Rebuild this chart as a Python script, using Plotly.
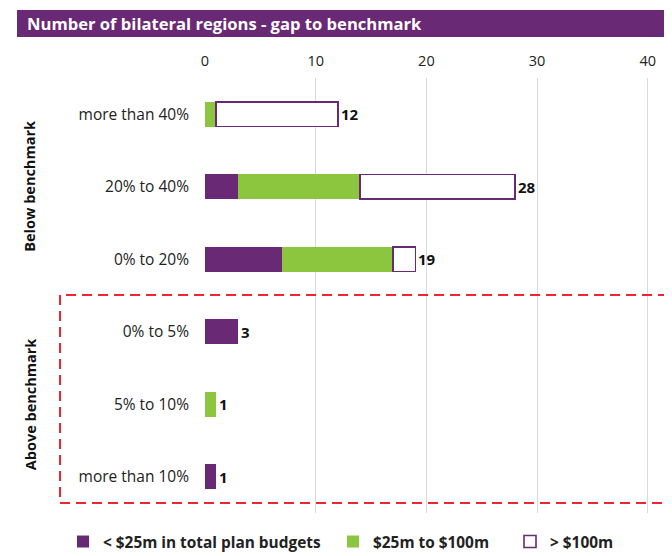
import plotly.graph_objects as go

categories = ["more than 40%", "20% to 40%", "0% to 20%", "0% to 5%", "5% to 10%", "more than 10%"]
small_budget = [0, 3, 7, 3, 0, 1]      # < $25m in total plan budgets
mid_budget = [1, 11, 10, 0, 1, 0]      # $25m to $100m
large_budget = [11, 14, 2, 0, 0, 0]    # > $100m
series_names = ["< $25m in total plan budgets", "$25m to $100m", "> $100m"]
group_labels = ["Below benchmark", "Above benchmark"]
group_centres = ["20% to 40%", "5% to 10%"]
x_ticks = [0, 10, 20, 30, 40]

PURPLE = "#6A2974"
GREEN = "#8CC63F"
FONT = "Open Sans"

totals = [a + b + c for a, b, c in zip(small_budget, mid_budget, large_budget)]

def nz(vals):
    return [v if v else None for v in vals]

# page body adds an 8px offset; work in window pixels and convert
OFF = 8
W, H = 672 - OFF, 556 - OFF
L, R, T, B = 205 - OFF, 0, 78 - OFF, 43
pw, ph = W - L - R, H - T - B

def px_x(p):
    return (p - OFF - L) / pw

def px_y(p):
    return (H - B - (p - OFF)) / ph

fig = go.Figure()
fig.add_trace(go.Bar(y=categories, x=nz(small_budget), orientation="h", name=series_names[0],
                     marker=dict(color=PURPLE, line=dict(width=0)), width=0.34,
                     legend="legend", showlegend=True))
fig.add_trace(go.Bar(y=categories, x=nz(mid_budget), orientation="h", name=series_names[1],
                     marker=dict(color=GREEN, line=dict(width=0)), width=0.34,
                     legend="legend2", showlegend=True))
fig.add_trace(go.Bar(y=categories, x=nz(large_budget), orientation="h", name=series_names[2],
                     marker=dict(color="white", line=dict(color=PURPLE, width=1.6)), width=0.34,
                     legend="legend3", showlegend=True))

shapes = [
    dict(type="rect", xref="paper", yref="paper", x0=px_x(17), x1=px_x(700), y0=px_y(37), y1=px_y(10),
         fillcolor=PURPLE, line=dict(width=0), layer="below"),
    dict(type="rect", xref="paper", yref="paper", x0=px_x(60), x1=px_x(700), y0=px_y(503), y1=px_y(295),
         fillcolor="rgba(0,0,0,0)", line=dict(color="#EE2430", width=2, dash="10px,6px")),
]

annotations = [
    dict(text="Number of bilateral regions - gap to benchmark", xref="paper", yref="paper",
         x=px_x(25), y=px_y(23.5), xanchor="left", yanchor="middle", showarrow=False,
         font=dict(family=FONT, size=16.6, color="white", weight="bold")),
]
for lab, cen in zip(group_labels, group_centres):
    annotations.append(dict(text=lab, xref="paper", yref="y", x=px_x(30), y=cen, textangle=-90,
                            xanchor="center", yanchor="middle", showarrow=False,
                            font=dict(family=FONT, size=14.5, color="#111111", weight="bold")))
for cat, tot in zip(categories, totals):
    annotations.append(dict(text=str(tot), xref="x", yref="y", x=tot, y=cat, xanchor="left",
                            yanchor="middle", xshift=1, showarrow=False,
                            font=dict(family=FONT, size=15, color="#111111", weight="bold")))

legend_common = dict(orientation="h", yanchor="middle", xanchor="left", bgcolor="rgba(0,0,0,0)",
                     font=dict(family=FONT, size=15.4, color="#222222", weight="bold"),
                     itemwidth=30)
fig.update_layout(
    width=W, height=H,
    margin=dict(l=L, r=R, t=T, b=B, pad=0, autoexpand=False),
    plot_bgcolor="white", paper_bgcolor="white",
    font=dict(family=FONT, size=15, color="#222222"),
    barmode="stack",
    showlegend=True,
    shapes=shapes,
    annotations=annotations,
    legend=dict(x=px_x(63), y=px_y(542), **legend_common),
    legend2=dict(x=px_x(333), y=px_y(542), **legend_common),
    legend3=dict(x=px_x(510), y=px_y(542), **legend_common),
    xaxis=dict(side="top", range=[0, (672 - 205) / 11.07], tickvals=x_ticks, showgrid=True,
               gridcolor="#D9D9D9", gridwidth=1, zeroline=False, showline=False,
               ticks="", ticklabelstandoff=8, tickfont=dict(family=FONT, size=14.5, color="#222222"),
               fixedrange=True),
    yaxis=dict(categoryorder="array", categoryarray=categories, autorange="reversed",
               showgrid=False, zeroline=False, showline=False, ticks="",
               ticklabelstandoff=15, tickfont=dict(family=FONT, size=15.5, color="#222222")),
)

fig.write_html("out.html")
